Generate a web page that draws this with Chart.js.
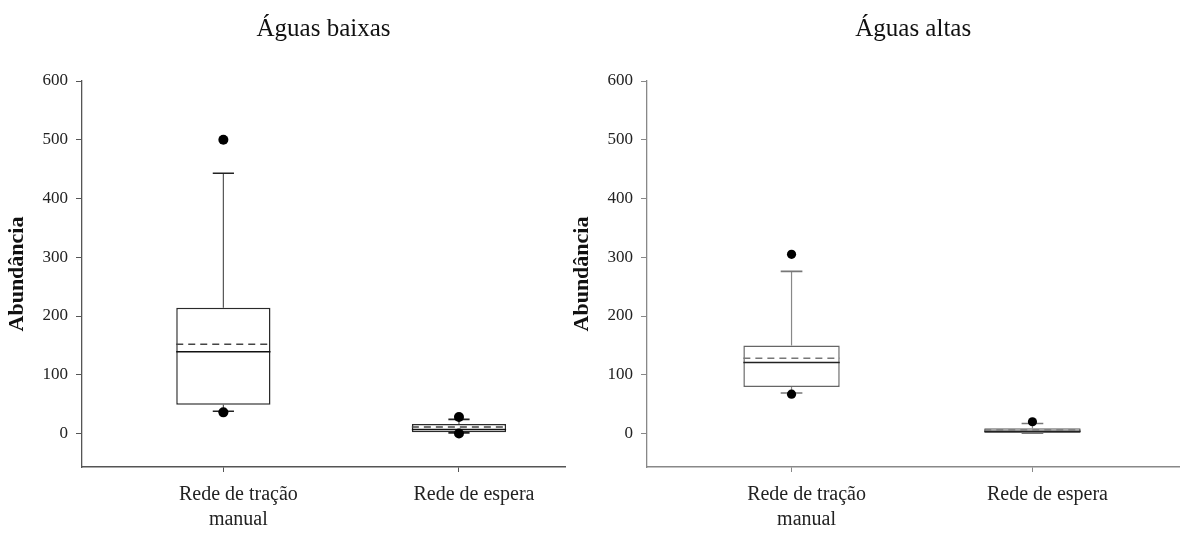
<!DOCTYPE html>
<html><head><meta charset="utf-8">
<script src="https://cdn.jsdelivr.net/npm/chart.js@4.4.1/dist/chart.umd.min.js"></script>
<style>
html,body{margin:0;padding:0;background:#fff;width:1184px;height:538px;overflow:hidden}
.p{position:absolute;top:0;height:538px}
</style></head>
<body>
<div class="p" style="left:0;width:580px"><canvas id="cl"></canvas></div>
<div class="p" style="left:560px;width:624px"><canvas id="cr"></canvas></div>
<script>
// ---- data ----
const categories = [['Rede de tração', 'manual'], 'Rede de espera'];
const yTickValues = [0, 100, 200, 300, 400, 500, 600];
const yAxisTitle = 'Abundância';
const panelTitles = ['Águas baixas', 'Águas altas'];

// Águas baixas
const lowQ1 = [49, 2];
const lowQ3 = [214, 16];
const lowMedian = [139, 7];
const lowMean = [152, 11];
const lowWhiskerMin = [38, 1];
const lowWhiskerMax = [443, 24];
const lowOutliers = [[500, 36], [28, 0]];

// Águas altas
const highQ1 = [79, 1];
const highQ3 = [150, 9];
const highMedian = [121, 4];
const highMean = [128, 6];
const highWhiskerMin = [69, 0.5];
const highWhiskerMax = [276, 17];
const highOutliers = [[305, 67], [20]];

// ---- helpers ----
const FONT = "'Liberation Serif', 'Times New Roman', serif";
const boxHalf = 0.2, capHalf = 0.045;

function segs(build) {
  const out = [];
  categories.forEach((c, i) => { build(i).forEach(p => out.push(p)); });
  return out;
}

function makePanel(id, title, s, o) {
  const lineDs = (label, data, color, width, dash, order) => ({
    type: 'line', label, data, borderColor: color, borderWidth: width,
    borderDash: dash || [], pointRadius: 0, pointHoverRadius: 0,
    fill: false, tension: 0, spanGaps: false, order
  });
  const whiskers = segs(i => [
    {x: i, y: s.q3[i]}, {x: i, y: s.wmax[i]}, {x: i, y: null},
    {x: i, y: s.q1[i]}, {x: i, y: s.wmin[i]}, {x: i, y: null}
  ]);
  const caps = segs(i => [
    {x: i - capHalf, y: s.wmax[i]}, {x: i + capHalf, y: s.wmax[i]}, {x: i, y: null},
    {x: i - capHalf, y: s.wmin[i]}, {x: i + capHalf, y: s.wmin[i]}, {x: i, y: null}
  ]);
  const medians = segs(i => [
    {x: i - boxHalf, y: s.med[i]}, {x: i + boxHalf, y: s.med[i]}, {x: i, y: null}
  ]);
  const means = segs(i => [
    {x: i - boxHalf, y: s.mean[i]}, {x: i + boxHalf, y: s.mean[i]}, {x: i, y: null}
  ]);
  const outliers = segs(i => s.out[i].map(v => ({x: i, y: v})));

  new Chart(document.getElementById(id), {
    type: 'bar',
    data: {
      datasets: [
        {
          type: 'bar', label: 'box',
          data: categories.map((c, i) => ({x: i, y: [s.q1[i], s.q3[i]]})),
          backgroundColor: '#ffffff', borderColor: o.boxColor, borderWidth: 1.5,
          borderSkipped: false, categoryPercentage: 1, barPercentage: 0.4, order: 5
        },
        lineDs('whiskers', whiskers, o.whiskerColor, 1.2, null, 6),
        lineDs('caps', caps, o.capColor, 1.6, null, 4),
        lineDs('median', medians, o.medianColor, 1.5, null, 3),
        lineDs('mean', means, o.meanColor, 1.5, [7, 5], 2),
        {
          type: 'scatter', label: 'outliers', data: outliers,
          backgroundColor: '#000', borderColor: '#000', borderWidth: 0,
          pointRadius: o.dotR, pointHoverRadius: o.dotR, order: 1
        }
      ]
    },
    options: {
      responsive: true, maintainAspectRatio: false, animation: false,
      layout: {padding: {left: 0, right: o.padRight, top: 0, bottom: 0}},
      plugins: {
        legend: {display: false}, tooltip: {enabled: false},
        title: {
          display: true, text: title, fullSize: false, color: '#111',
          font: {family: FONT, size: 25, weight: 'normal'},
          padding: {top: 14, bottom: 37}
        }
      },
      scales: {
        x: {
          type: 'linear', min: -0.6, max: o.xMax, offset: false,
          afterBuildTicks: sc => { sc.ticks = categories.map((c, i) => ({value: i})); },
          afterFit: sc => { sc.height = 71; },
          ticks: {
            callback: v => categories[v], color: '#222', padding: 10, labelOffset: 15,
            maxRotation: 0, autoSkip: false,
            font: {family: FONT, size: 20, lineHeight: 1.25}
          },
          grid: {display: true, drawOnChartArea: false, drawTicks: true, tickLength: 5,
                 color: o.axisColor, offset: false},
          border: {display: true, color: o.axisColor, width: 1.4}
        },
        y: {
          type: 'linear', min: -57, max: 600,
          afterBuildTicks: sc => { sc.ticks = yTickValues.map(v => ({value: v})); },
          afterFit: sc => { sc.width = o.yWidth; },
          ticks: {color: '#222', padding: 8, font: {family: FONT, size: 17}},
          grid: {display: true, drawOnChartArea: false, drawTicks: true, tickLength: 6,
                 color: o.axisColor},
          border: {display: true, color: o.axisColor, width: 1.3},
          title: {
            display: true, text: yAxisTitle, color: '#111',
            font: {family: FONT, size: 22, weight: 'bold'},
            padding: {top: o.yTitlePad, bottom: 0}
          }
        }
      }
    }
  });
}

makePanel('cl', panelTitles[0], {
  q1: lowQ1, q3: lowQ3, med: lowMedian, mean: lowMean,
  wmin: lowWhiskerMin, wmax: lowWhiskerMax, out: lowOutliers
}, {
  xMax: 1.45, padRight: 15, yWidth: 82, yTitlePad: 4, dotR: 5,
  boxColor: '#2a2a2a', whiskerColor: '#555', capColor: '#222', medianColor: '#111',
  meanColor: '#444', axisColor: '#555'
});

makePanel('cr', panelTitles[1], {
  q1: highQ1, q3: highQ3, med: highMedian, mean: highMean,
  wmin: highWhiskerMin, wmax: highWhiskerMax, out: highOutliers
}, {
  xMax: 1.61, padRight: 0, yWidth: 87, yTitlePad: 9, dotR: 4.6,
  boxColor: '#666', whiskerColor: '#888', capColor: '#777', medianColor: '#222',
  meanColor: '#777', axisColor: '#888'
});
</script>
</body></html>
